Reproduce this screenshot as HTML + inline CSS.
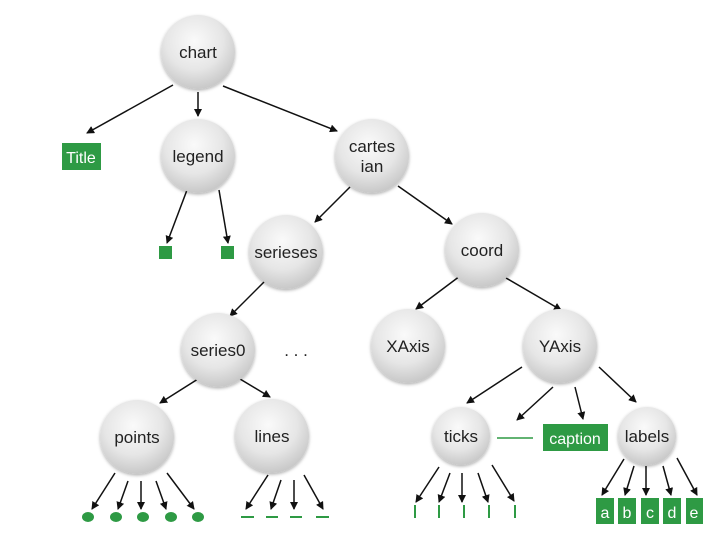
<!DOCTYPE html>
<html><head><style>body{margin:0;background:#fff}</style></head><body>
<svg width="720" height="540" xmlns="http://www.w3.org/2000/svg" font-family="Liberation Sans, sans-serif">
<defs>
<radialGradient id="g" cx="45%" cy="35%" r="65%"><stop offset="0" stop-color="#fafafa"/><stop offset="0.6" stop-color="#e6e6e6"/><stop offset="1" stop-color="#c8c8c8"/></radialGradient>
<marker id="a" markerWidth="8" markerHeight="8" refX="7" refY="4" orient="auto" markerUnits="userSpaceOnUse"><path d="M0,0 L8,4 L0,8 z" fill="#111"/></marker>
<filter id="s"><feDropShadow dx="0" dy="1.5" stdDeviation="1.5" flood-opacity="0.3"/></filter>
</defs>
<g stroke="#111" stroke-width="1.5" marker-end="url(#a)">
<line x1="173" y1="85" x2="87" y2="133"/>
<line x1="198" y1="92" x2="198" y2="116"/>
<line x1="223" y1="86" x2="337" y2="131"/>
<line x1="187" y1="190" x2="167" y2="243"/>
<line x1="219" y1="190" x2="228" y2="243"/>
<line x1="350" y1="187" x2="315" y2="222"/>
<line x1="398" y1="186" x2="452" y2="224"/>
<line x1="264" y1="282" x2="230" y2="316"/>
<line x1="460" y1="276" x2="416" y2="309"/>
<line x1="506" y1="278" x2="561" y2="310"/>
<line x1="522" y1="367" x2="467" y2="403"/>
<line x1="553" y1="387" x2="517" y2="420"/>
<line x1="575" y1="387" x2="583" y2="419"/>
<line x1="599" y1="367" x2="636" y2="402"/>
<line x1="198" y1="379" x2="160" y2="403"/>
<line x1="240" y1="379" x2="270" y2="397"/>
<line x1="115" y1="473" x2="92" y2="509"/>
<line x1="128" y1="481" x2="118" y2="509"/>
<line x1="141" y1="481" x2="141" y2="509"/>
<line x1="156" y1="481" x2="166" y2="509"/>
<line x1="167" y1="473" x2="194" y2="509"/>
<line x1="268" y1="475" x2="246" y2="509"/>
<line x1="281" y1="480" x2="271" y2="509"/>
<line x1="294" y1="480" x2="294" y2="509"/>
<line x1="304" y1="475" x2="323" y2="509"/>
<line x1="439" y1="467" x2="416" y2="502"/>
<line x1="450" y1="473" x2="439" y2="502"/>
<line x1="462" y1="473" x2="462" y2="502"/>
<line x1="478" y1="473" x2="488" y2="502"/>
<line x1="492" y1="465" x2="514" y2="501"/>
<line x1="624" y1="459" x2="602" y2="495"/>
<line x1="634" y1="466" x2="625" y2="495"/>
<line x1="646" y1="466" x2="646" y2="495"/>
<line x1="663" y1="466" x2="671" y2="495"/>
<line x1="677" y1="458" x2="697" y2="495"/>
</g>
<g fill="url(#g)" filter="url(#s)">
<circle cx="198" cy="52" r="37"/><circle cx="198" cy="156" r="37"/><circle cx="372" cy="156" r="37"/>
<circle cx="286" cy="252" r="37"/><circle cx="482" cy="250" r="37"/><circle cx="218" cy="350" r="37"/>
<circle cx="408" cy="346" r="37"/><circle cx="560" cy="346" r="37"/><circle cx="137" cy="437" r="37"/>
<circle cx="272" cy="436" r="37"/><circle cx="461" cy="436" r="29"/><circle cx="647" cy="436" r="29"/>
</g>
<g font-size="17" fill="#222" text-anchor="middle">
<text x="198" y="58">chart</text><text x="198" y="162">legend</text>
<text x="372" y="152">cartes</text><text x="372" y="172">ian</text>
<text x="286" y="258">serieses</text><text x="482" y="256">coord</text><text x="218" y="356">series0</text>
<text x="408" y="352">XAxis</text><text x="560" y="352">YAxis</text><text x="137" y="443">points</text>
<text x="272" y="442">lines</text><text x="461" y="442">ticks</text><text x="647" y="442">labels</text>
<text x="296" y="356">. . .</text>
</g>
<g fill="#2e9a44">
<rect x="62" y="143" width="39" height="27"/>
<rect x="159" y="246" width="13" height="13"/><rect x="221" y="246" width="13" height="13"/>
<rect x="543" y="424" width="65" height="27"/>
<rect x="596" y="498" width="18" height="26"/><rect x="618" y="498" width="18" height="26"/><rect x="641" y="498" width="18" height="26"/><rect x="663" y="498" width="18" height="26"/><rect x="686" y="498" width="17" height="26"/>
<ellipse cx="88" cy="517" rx="6" ry="5"/><ellipse cx="116" cy="517" rx="6" ry="5"/><ellipse cx="143" cy="517" rx="6" ry="5"/><ellipse cx="171" cy="517" rx="6" ry="5"/><ellipse cx="198" cy="517" rx="6" ry="5"/>
</g>
<g stroke="#2e9a44" stroke-width="2">
<line x1="241" y1="517" x2="254" y2="517"/><line x1="266" y1="517" x2="278" y2="517"/><line x1="290" y1="517" x2="302" y2="517"/><line x1="316" y1="517" x2="329" y2="517"/>
<line x1="415" y1="505" x2="415" y2="518"/><line x1="439" y1="505" x2="439" y2="518"/><line x1="464" y1="505" x2="464" y2="518"/><line x1="489" y1="505" x2="489" y2="518"/><line x1="515" y1="505" x2="515" y2="518"/>
<line x1="497" y1="438" x2="533" y2="438" stroke-width="1.5"/>
</g>
<g fill="#fff" text-anchor="middle" font-size="16">
<text x="81" y="163">Title</text><text x="575" y="444">caption</text>
<text x="605" y="518">a</text><text x="627" y="518">b</text><text x="650" y="518">c</text><text x="672" y="518">d</text><text x="694" y="518">e</text>
</g>
</svg>
</body></html>
